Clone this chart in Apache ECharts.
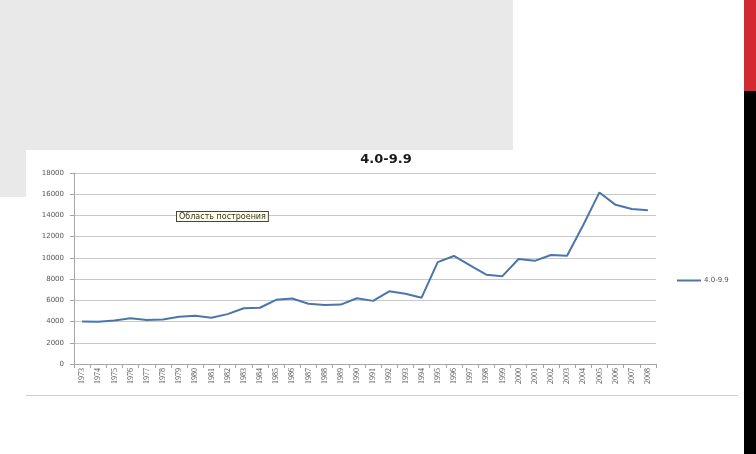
<!DOCTYPE html>
<html><head><meta charset="utf-8">
<script src="https://cdn.jsdelivr.net/npm/echarts@6/dist/echarts.min.js"></script>
<style>html,body{margin:0;padding:0;background:#fff}#c{width:756px;height:454px}</style>
</head><body><div id="c"></div>
<script>
var years = ['1973','1974','1975','1976','1977','1978','1979','1980','1981','1982','1983','1984','1985','1986','1987','1988','1989','1990','1991','1992','1993','1994','1995','1996','1997','1998','1999','2000','2001','2002','2003','2004','2005','2006','2007','2008'];
var values = [4000,3990,4100,4320,4150,4200,4450,4550,4350,4700,5250,5300,6050,6170,5680,5570,5600,6200,5950,6850,6620,6250,9600,10180,9300,8420,8280,9900,9720,10270,10200,13100,16170,15000,14600,14500];
var seriesName = '4.0-9.9';
var titleText = '4.0-9.9';
var noteText = 'Область построения';

var chart = echarts.init(document.getElementById('c'), null, {renderer:'canvas'});
chart.setOption({
  backgroundColor:'#ffffff',
  animation:false,
  title:{text:titleText,left:381,top:148,textAlign:'center',
    textStyle:{fontFamily:'DejaVu Sans',fontSize:13,fontWeight:'bold',color:'#1a1a1a'}},
  legend:{data:[seriesName],left:672,top:272,itemWidth:24,itemHeight:2,itemGap:4,
    icon:'rect',
    textStyle:{fontFamily:'DejaVu Sans',fontSize:7,color:'#555',padding:[0,0,0,-2]}},
  grid:{left:74,right:100,top:173,bottom:90,containLabel:false},
  xAxis:{type:'category',data:years,boundaryGap:true,
    axisLine:{lineStyle:{color:'#a6a6a6'}},
    axisTick:{show:true,length:4,lineStyle:{color:'#a6a6a6'}},
    axisLabel:{rotate:90,interval:0,fontFamily:'Liberation Serif',fontSize:8,color:'#555',margin:4}},
  yAxis:{type:'value',min:0,max:18000,interval:2000,
    axisLine:{show:true,lineStyle:{color:'#a6a6a6'}},
    axisTick:{show:true,length:4,lineStyle:{color:'#a6a6a6'}},
    splitLine:{lineStyle:{color:'#c8c8c8'}},
    axisLabel:{fontFamily:'DejaVu Sans',fontSize:7,color:'#555',margin:10,
      formatter:function(v){return String(v);}}},
  series:[{name:seriesName,type:'line',data:values,symbol:'none',
    lineStyle:{color:'#4a76ab',width:2},itemStyle:{color:'#4a76ab'}}],
  graphic:[
    {type:'rect',shape:{x:0,y:0,width:513,height:150},style:{fill:'#e9e9e9'},z:-1},
    {type:'rect',shape:{x:0,y:150,width:26,height:47},style:{fill:'#e9e9e9'},z:-1},
    {type:'rect',shape:{x:744,y:0,width:12,height:91},style:{fill:'#d3292f'}},
    {type:'rect',shape:{x:744,y:91,width:12,height:363},style:{fill:'#000000'}},
    {type:'line',shape:{x1:26,y1:395.5,x2:738,y2:395.5},style:{stroke:'#cfcfcf',lineWidth:1}},
    {type:'text',left:176,top:211,z:100,
      style:{text:noteText,fontFamily:'DejaVu Sans',fontSize:8,fill:'#333',
        backgroundColor:'#ffffe6',borderColor:'#444',borderWidth:1,padding:[1,2,0,2]}}
  ]
});
</script></body></html>
